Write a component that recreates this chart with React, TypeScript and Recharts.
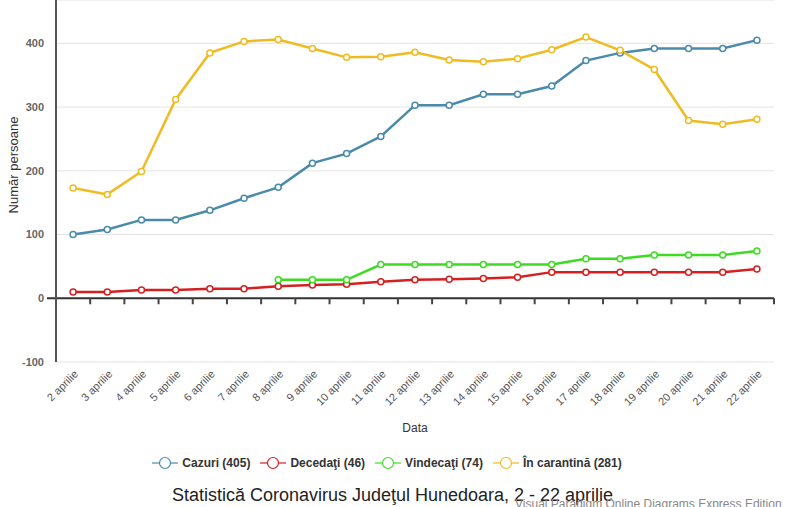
import React from "react";
import {
  LineChart,
  Line,
  XAxis,
  YAxis,
  CartesianGrid,
  Legend,
  ReferenceLine,
} from "recharts";

const days = [
  "2 aprilie", "3 aprilie", "4 aprilie", "5 aprilie", "6 aprilie", "7 aprilie",
  "8 aprilie", "9 aprilie", "10 aprilie", "11 aprilie", "12 aprilie", "13 aprilie",
  "14 aprilie", "15 aprilie", "16 aprilie", "17 aprilie", "18 aprilie", "19 aprilie",
  "20 aprilie", "21 aprilie", "22 aprilie",
];
const cazuri = [100, 108, 123, 123, 138, 157, 174, 212, 227, 254, 303, 303, 320, 320, 333, 373, 385, 392, 392, 392, 405];
const decedati = [10, 10, 13, 13, 15, 15, 19, 21, 22, 26, 29, 30, 31, 33, 41, 41, 41, 41, 41, 41, 46];
const vindecati: (number | null)[] = [null, null, null, null, null, null, 29, 29, 29, 53, 53, 53, 53, 53, 53, 62, 62, 68, 68, 68, 74];
const carantina = [173, 163, 199, 312, 385, 403, 406, 392, 378, 379, 386, 374, 371, 376, 390, 410, 389, 359, 279, 273, 281];
const yTicks = [-100, 0, 100, 200, 300, 400];

const seriesDefs = [
  { key: "cazuri", name: "Cazuri", color: "#4a8aaa", values: cazuri },
  { key: "decedati", name: "Decedaţi", color: "#d42020", values: decedati },
  { key: "vindecati", name: "Vindecaţi", color: "#3ddc22", values: vindecati },
  { key: "carantina", name: "În carantină", color: "#f0bb22", values: carantina },
];

const data = days.map((d, i) => {
  const row: any = { day: d };
  seriesDefs.forEach((s) => {
    row[s.key] = s.values[i];
  });
  return row;
});

const FONT = "'Liberation Sans', Arial, sans-serif";

const XTick = (props: any) => {
  const { x, y, payload } = props;
  return (
    <g transform={`translate(${x + 3},${y + 2})`}>
      <text
        transform="rotate(-45)"
        textAnchor="end"
        dy="0.35em"
        fill="#555"
        fontSize={11}
        fontFamily={FONT}
      >
        {payload.value}
      </text>
    </g>
  );
};

const YTick = (props: any) => {
  const { x, y, payload } = props;
  return (
    <text
      x={x}
      y={y}
      dy="0.35em"
      textAnchor="end"
      fill="#666"
      fontSize={11}
      fontWeight="bold"
      fontFamily={FONT}
    >
      {payload.value}
    </text>
  );
};

const ZeroAxis = (props: any) => {
  const { x1, y1, x2 } = props;
  const n = days.length;
  const step = (x2 - x1) / n;
  const ticks = [];
  for (let i = 1; i <= n; i++) {
    const tx = x1 + i * step;
    ticks.push(<line key={i} x1={tx} x2={tx} y1={y1} y2={y1 + 6} stroke="#444" strokeWidth={2} />);
  }
  return (
    <g>
      <line x1={x1 - 9} x2={x2} y1={y1} y2={y1} stroke="#333" strokeWidth={2} />
      {ticks}
    </g>
  );
};

const LegendContent = () => {
  return (
    <div
      style={{
        display: "flex",
        justifyContent: "center",
        alignItems: "center",
        fontFamily: FONT,
        fontSize: 12,
        fontWeight: "bold",
        color: "#333",
        paddingTop: 3,
      }}
    >
      {seriesDefs.map((s) => (
        <div key={s.key} style={{ display: "flex", alignItems: "center", margin: "0 5px" }}>
          <svg width={26} height={14} style={{ marginRight: 4 }}>
            <line x1={0} x2={7.5} y1={7} y2={7} stroke={s.color} strokeWidth={1.2} />
            <circle cx={13} cy={7} r={5.5} fill="none" stroke={s.color} strokeWidth={1.2} />
            <line x1={18.5} x2={26} y1={7} y2={7} stroke={s.color} strokeWidth={1.2} />
          </svg>
          <span>
            {s.name} ({s.values[s.values.length - 1]})
          </span>
        </div>
      ))}
    </div>
  );
};

export default function App() {
  return (
    <div style={{ position: "absolute", left: 0, top: 0, width: 785, height: 507, background: "#fff", overflow: "hidden" }}>
      <LineChart
        width={785}
        height={507}
        data={data}
        margin={{ top: 0, right: 11, bottom: 34, left: 0 }}
      >
        <CartesianGrid horizontal vertical={false} stroke="#e3e3e3" strokeWidth={1} />
        <XAxis
          dataKey="day"
          scale="band"
          height={91}
          axisLine={false}
          tickLine={false}
          interval={0}
          tick={<XTick />}
          label={{ value: "Data", position: "insideBottom", offset: 21, fill: "#333", fontSize: 12, fontFamily: FONT }}
        />
        <YAxis
          width={56}
          domain={[-100, 468]}
          ticks={yTicks}
          allowDataOverflow
          axisLine={{ stroke: "#555", strokeWidth: 2 }}
          tickLine={false}
          tick={<YTick />}
          tickMargin={6}
          label={(p: any) => {
            const vb = p.viewBox || {};
            const cx = (vb.x || 0) + 13;
            const cy = (vb.y || 0) + (vb.height || 0) / 2 - 16;
            return (
              <text
                x={cx}
                y={cy}
                transform={`rotate(-90, ${cx}, ${cy})`}
                textAnchor="middle"
                dominantBaseline="central"
                fill="#333"
                fontSize={13}
                fontFamily={FONT}
              >
                Număr persoane
              </text>
            );
          }}
        />
        <ReferenceLine y={0} shape={<ZeroAxis />} />
        <Legend verticalAlign="bottom" height={20} content={<LegendContent />} />
        {seriesDefs.map((s) => (
          <Line
            key={s.key}
            type="linear"
            dataKey={s.key}
            name={s.name}
            stroke={s.color}
            strokeWidth={2.5}
            dot={{ r: 3, fill: "#fff", stroke: s.color, strokeWidth: 1.5 }}
            activeDot={false}
            isAnimationActive={false}
            connectNulls={false}
          />
        ))}
      </LineChart>
      <div
        style={{
          position: "absolute",
          left: 0,
          width: 785,
          top: 485,
          textAlign: "center",
          fontFamily: FONT,
          fontSize: 18,
          color: "#222",
          whiteSpace: "nowrap",
        }}
      >
        Statistică Coronavirus Judeţul Hunedoara, 2 - 22 aprilie
      </div>
      <div
        style={{
          position: "absolute",
          left: 515,
          top: 497,
          fontFamily: FONT,
          fontSize: 12,
          color: "#888",
          whiteSpace: "nowrap",
        }}
      >
        Visual Paradigm Online Diagrams Express Edition
      </div>
    </div>
  );
}
